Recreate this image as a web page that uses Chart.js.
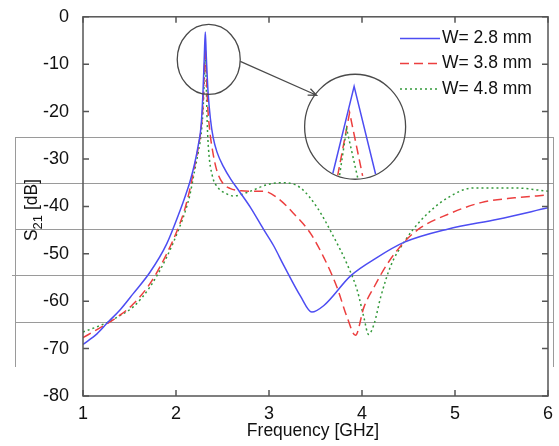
<!DOCTYPE html>
<html>
<head>
    <meta charset="utf-8" />
    <title>S21 vs frequency</title>
    <script src="https://cdn.jsdelivr.net/npm/chart.js"></script>
    <style>
        body { margin: 0; background: #fff; }
        #wrap { width: 559px; height: 446px; }
    </style>
</head>
<body>
    <div id="wrap"><canvas id="s21Chart" width="559" height="446"></canvas></div>
    <script>
        // values (GHz, dB)
        const blueFreq = [1.0, 1.15, 1.27, 1.40, 1.54, 1.72, 1.90, 2.045, 2.10, 2.15, 2.20, 2.24, 2.27, 2.29, 2.305, 2.315, 2.325, 2.345, 2.37, 2.40, 2.44, 2.51, 2.59, 2.68, 2.80, 2.94, 3.05, 3.16, 3.34, 3.46, 3.59, 3.88, 4.16, 4.45, 4.92, 5.46, 6.0];
        const blueDb   = [-69.1, -66.9, -64.4, -61.8, -58.4, -53.9, -47.9, -40.8, -37.8, -34.8, -31.0, -27.0, -23.0, -16.0, -8.0, -3.2, -8.0, -16.0, -21.5, -25.5, -28.5, -31.6, -34.3, -36.8, -40.2, -44.8, -48.3, -52.5, -59.0, -62.3, -60.9, -54.6, -50.8, -47.6, -44.8, -42.7, -40.3];

        const redFreq = [1.0, 1.15, 1.27, 1.40, 1.54, 1.72, 1.90, 2.04, 2.10, 2.15, 2.20, 2.24, 2.27, 2.29, 2.305, 2.315, 2.325, 2.34, 2.36, 2.40, 2.44, 2.50, 2.58, 2.70, 2.85, 2.94, 3.09, 3.27, 3.45, 3.59, 3.73, 3.84, 3.93, 4.02, 4.13, 4.27, 4.45, 4.63, 4.92, 5.28, 5.64, 6.0];
        const redDb   = [-67.7, -66.0, -64.6, -62.9, -60.6, -56.3, -50.0, -43.7, -40.2, -36.3, -31.5, -27.5, -23.5, -18.5, -11.0, -6.5, -11.0, -18.5, -23.5, -29.0, -32.5, -35.0, -36.2, -36.7, -36.8, -36.8, -38.2, -41.6, -45.8, -50.8, -57.0, -63.4, -67.2, -61.3, -57.0, -52.2, -47.6, -44.5, -41.7, -39.2, -38.2, -37.6];

        const greenFreq = [1.0, 1.15, 1.27, 1.40, 1.54, 1.72, 1.90, 2.04, 2.10, 2.15, 2.20, 2.24, 2.27, 2.29, 2.305, 2.315, 2.325, 2.335, 2.35, 2.39, 2.45, 2.53, 2.62, 2.80, 2.98, 3.16, 3.34, 3.52, 3.70, 3.84, 3.95, 4.02, 4.07, 4.13, 4.20, 4.31, 4.45, 4.63, 4.92, 5.20, 5.64, 6.0];
        const greenDb   = [-66.5, -65.4, -64.4, -63.0, -61.2, -57.0, -50.7, -44.3, -41.0, -37.5, -32.5, -28.5, -24.8, -20.0, -13.0, -8.5, -14.0, -22.0, -28.0, -33.5, -36.0, -37.2, -37.8, -36.8, -35.4, -35.0, -36.1, -40.3, -46.6, -52.2, -57.8, -63.4, -67.0, -64.8, -59.2, -52.5, -47.6, -43.0, -38.2, -36.1, -36.1, -36.8];

        const seriesLabels = ['W= 2.8 mm', 'W= 3.8 mm', 'W= 4.8 mm'];
        const xTicks = [1, 2, 3, 4, 5, 6];
        const yTicks = [0, -10, -20, -30, -40, -50, -60, -70, -80];

        // magnified view of the resonance peak shown in the inset
        const insetFreq = [[2.2925, 2.314, 2.3355], [2.2975, 2.3095, 2.3225], [2.2995, 2.3065, 2.3175]];
        const insetDb   = [[-14.2, -3.2, -14.2], [-14.4, -6.5, -14.4], [-14.3, -8.5, -14.6]];

        const FONT = '"Liberation Sans", Arial, sans-serif';
        Chart.defaults.font.family = FONT;

        const styles = [
            { color: '#4d4df2', dash: [] },
            { color: '#ec3f3f', dash: [9, 5] },
            { color: '#33993a', dash: [2, 3] }
        ];

        function pts(fs, ds) {
            return fs.map((f, i) => ({ x: f, y: ds[i] }));
        }

        const decor = {
            id: 'decor',
            beforeDatasetsDraw(chart) {
                // faint table rules that sit over the scanned figure
                const ctx = chart.ctx;
                ctx.save();
                ctx.strokeStyle = '#9a9a9a';
                ctx.lineWidth = 1;
                ctx.beginPath();
                [137, 183, 229, 275, 322].forEach(y => {
                    ctx.moveTo(15, y + 0.5); ctx.lineTo(553, y + 0.5);
                });
                ctx.moveTo(15.5, 137); ctx.lineTo(15.5, 367);
                ctx.moveTo(553.5, 137); ctx.lineTo(553.5, 367);
                ctx.moveTo(12, 275.5); ctx.lineTo(15, 275.5);
                ctx.stroke();
                ctx.restore();
            },
            afterDatasetsDraw(chart) {
                const ctx = chart.ctx;
                const a = chart.chartArea;
                const xs = chart.scales.x, ys = chart.scales.y;
                ctx.save();

                // box and inward ticks
                ctx.strokeStyle = '#555';
                ctx.lineWidth = 1.5;
                ctx.strokeRect(a.left, a.top, a.right - a.left, a.bottom - a.top);
                ctx.beginPath();
                xTicks.forEach(v => {
                    const px = xs.getPixelForValue(v);
                    ctx.moveTo(px, a.bottom); ctx.lineTo(px, a.bottom - 6);
                    ctx.moveTo(px, a.top); ctx.lineTo(px, a.top + 6);
                });
                yTicks.forEach(v => {
                    const py = ys.getPixelForValue(v);
                    ctx.moveTo(a.left, py); ctx.lineTo(a.left + 6, py);
                    ctx.moveTo(a.right, py); ctx.lineTo(a.right - 6, py);
                });
                ctx.stroke();

                // zoom circle, arrow and inset
                const c1x = xs.getPixelForValue(2.352), c1y = ys.getPixelForValue(-9.0);
                const c2x = xs.getPixelForValue(3.926), c2y = ys.getPixelForValue(-23.2);
                ctx.strokeStyle = '#4a4a4a';
                ctx.lineWidth = 1.3;
                ctx.beginPath();
                ctx.ellipse(c1x, c1y, 31.5, 35, 0, 0, Math.PI * 2);
                ctx.stroke();
                ctx.beginPath();
                ctx.ellipse(c2x, c2y, 50.5, 52.5, 0, 0, Math.PI * 2);
                ctx.stroke();

                const sx = c1x + 31.5, sy = c1y + 2;
                const ex = c2x - 38.5, ey = c2y - 31.5;
                const ang = Math.atan2(ey - sy, ex - sx);
                ctx.beginPath();
                ctx.moveTo(sx, sy); ctx.lineTo(ex, ey);
                ctx.moveTo(ex - 9 * Math.cos(ang - 0.4), ey - 9 * Math.sin(ang - 0.4));
                ctx.lineTo(ex, ey);
                ctx.lineTo(ex - 9 * Math.cos(ang + 0.4), ey - 9 * Math.sin(ang + 0.4));
                ctx.stroke();

                // inset: local magnified scale around the peak
                ctx.save();
                ctx.beginPath();
                ctx.ellipse(c2x, c2y, 50, 52, 0, 0, Math.PI * 2);
                ctx.clip();
                const f0 = 2.315, d0 = -8.26, kx = 1000, ky = 8;
                insetFreq.forEach((fs, s) => {
                    ctx.strokeStyle = styles[s].color;
                    ctx.setLineDash(styles[s].dash);
                    ctx.lineWidth = 1.5;
                    ctx.beginPath();
                    fs.forEach((f, i) => {
                        const px = c2x + (f - f0) * kx;
                        const py = c2y - (insetDb[s][i] - d0) * ky;
                        if (i === 0) ctx.moveTo(px, py); else ctx.lineTo(px, py);
                    });
                    ctx.stroke();
                });
                ctx.restore();

                // legend
                const legY = [38.5, 63.5, 89];
                ctx.font = '17.5px ' + FONT;
                ctx.textBaseline = 'middle';
                ctx.textAlign = 'left';
                seriesLabels.forEach((lab, s) => {
                    ctx.strokeStyle = styles[s].color;
                    ctx.setLineDash(styles[s].dash);
                    ctx.lineWidth = 1.5;
                    ctx.beginPath();
                    ctx.moveTo(400, legY[s]); ctx.lineTo(440, legY[s]);
                    ctx.stroke();
                    ctx.setLineDash([]);
                    ctx.fillStyle = '#111';
                    ctx.fillText(lab, 442, legY[s]);
                });

                // axis titles
                ctx.fillStyle = '#111';
                ctx.textAlign = 'center';
                ctx.textBaseline = 'alphabetic';
                ctx.fillText('Frequency [GHz]', 313, 436);

                ctx.save();
                ctx.translate(37, 210);
                ctx.rotate(-Math.PI / 2);
                const big = '17.5px ' + FONT, small = '13px ' + FONT;
                ctx.font = big; const wS = ctx.measureText('S').width;
                ctx.font = small; const w21 = ctx.measureText('21').width;
                ctx.font = big; const wDb = ctx.measureText(' [dB]').width;
                let x0 = -(wS + w21 + wDb) / 2;
                ctx.textAlign = 'left';
                ctx.font = big; ctx.fillText('S', x0, 0);
                ctx.font = small; ctx.fillText('21', x0 + wS, 5);
                ctx.font = big; ctx.fillText(' [dB]', x0 + wS + w21, 0);
                ctx.restore();

                ctx.restore();
            }
        };

        new Chart(document.getElementById('s21Chart'), {
            type: 'line',
            data: {
                datasets: [
                    { label: seriesLabels[0], data: pts(blueFreq, blueDb) },
                    { label: seriesLabels[1], data: pts(redFreq, redDb) },
                    { label: seriesLabels[2], data: pts(greenFreq, greenDb) }
                ].map((d, i) => Object.assign(d, {
                    borderColor: styles[i].color,
                    borderDash: styles[i].dash,
                    borderWidth: 1.5,
                    pointRadius: 0,
                    fill: false,
                    cubicInterpolationMode: 'monotone'
                }))
            },
            options: {
                responsive: false,
                animation: false,
                layout: { padding: { top: 15, right: 11, left: 0, bottom: 0 } },
                plugins: { legend: { display: false }, tooltip: { enabled: false } },
                scales: {
                    x: {
                        type: 'linear', min: 1, max: 6,
                        afterBuildTicks: s => { s.ticks = xTicks.map(v => ({ value: v })); },
                        afterFit: s => { s.height = 50; },
                        grid: { display: false },
                        border: { display: false },
                        ticks: { color: '#111', font: { size: 18 }, padding: -1, maxRotation: 0 }
                    },
                    y: {
                        min: -80, max: 0,
                        afterBuildTicks: s => { s.ticks = yTicks.map(v => ({ value: v })); },
                        afterFit: s => { s.width = 83; },
                        grid: { display: false },
                        border: { display: false },
                        ticks: { color: '#111', font: { size: 18 }, padding: 6 }
                    }
                }
            },
            plugins: [decor]
        });
    </script>
</body>
</html>
